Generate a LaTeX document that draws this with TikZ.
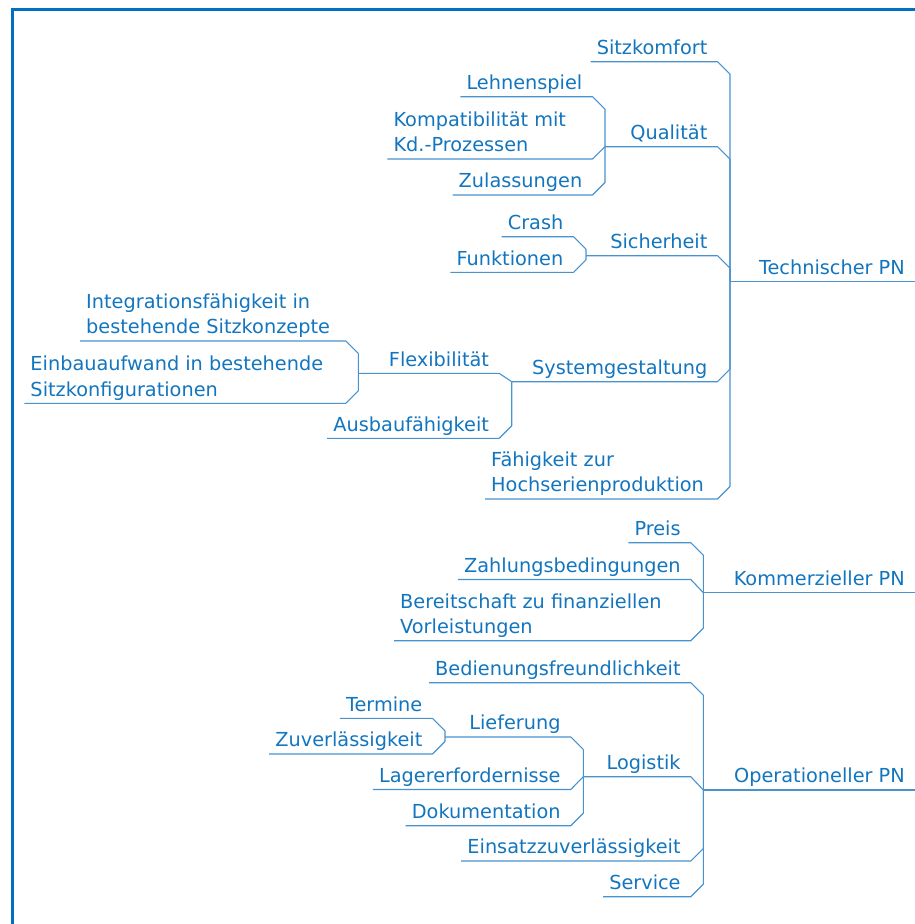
\documentclass[tikz,border=0pt]{standalone}
\usepackage{fontspec}
\setmainfont{DejaVu Sans}
\usetikzlibrary{calc}

\definecolor{pnframe}{RGB}{0,112,192}
\definecolor{pntext}{RGB}{18,117,190}
\definecolor{pnline}{RGB}{72,146,206}

\begin{document}
\begin{tikzpicture}[x=1pt, y=-1pt,
  pn/.style={font=\fontsize{19.3}{25.5}\selectfont, text=pntext, inner xsep=6pt, inner ysep=0pt,
    align=left, execute at end node={\rule[-7pt]{0pt}{7pt}}},
  pnr/.style={pn, anchor=south east},
  pnl/.style={pn, anchor=south west},
  branch/.style={draw=pnline, line width=1.1pt, line join=round}]

\useasboundingbox (0,0) rectangle (915,924);

% frame
\draw[pnframe, line width=2.7pt] (12.3,924) -- (12.3,9.3) -- (915,9.3);

% junctions of the brackets
\coordinate (techbar) at (730,281.7);
\coordinate (kommbar) at (703.3,592.7);
\coordinate (operbar) at (703.3,790);
\coordinate (qualbar) at (605,146.7);
\coordinate (sicherbar) at (586,255.7);
\coordinate (sysbar) at (511.7,381.7);
\coordinate (flexbar) at (358.3,373.3);
\coordinate (logbar) at (583.3,776.7);
\coordinate (liefbar) at (445,737);

% roots
\node[pnr] (tech) at (911,281.7) {Technischer PN};
\node[pnr] (komm) at (911,592.7) {Kommerzieller PN};
\node[pnr] (oper) at (911,790) {Operationeller PN};

% Technischer PN
\node[pnr] (sitz) at (713.5,61.7) {Sitzkomfort};
\node[pnr] (qual) at (713.5,146.7) {Qualität};
\node[pnr] (sicher) at (713.5,255.7) {Sicherheit};
\node[pnr] (system) at (713.5,381.7) {Systemgestaltung};
\node[pnl] (hoch) at (485,499) {Fähigkeit zur\\Hochserienproduktion};

\node[pnr] (lehnen) at (588.5,96.7) {Lehnenspiel};
\node[pnl] (kompat) at (387.3,159) {Kompatibilität mit\\Kd.-Prozessen};
\node[pnr] (zul) at (588.5,195) {Zulassungen};

\node[pnr] (crash) at (569.5,236.7) {Crash};
\node[pnr] (funkt) at (569.5,272.3) {Funktionen};

\node[pnr] (flex) at (495.2,373.3) {Flexibilität};
\node[pnr] (ausbau) at (495.2,438.3) {Ausbaufähigkeit};
\node[pnl] (integ) at (80,341) {Integrationsfähigkeit in\\bestehende Sitzkonzepte};
\node[pnl] (einbau) at (24.3,403.3) {Einbauaufwand in bestehende\\Sitzkonfigurationen};

% Kommerzieller PN
\node[pnr] (preis) at (686.8,542.7) {Preis};
\node[pnr] (zahl) at (686.8,579.5) {Zahlungsbedingungen};
\node[pnl] (bereit) at (394,640.7) {Bereitschaft zu finanziellen\\Vorleistungen};

% Operationeller PN
\node[pnr] (bedien) at (686.8,682.7) {Bedienungsfreundlichkeit};
\node[pnr] (logistik) at (686.8,776.7) {Logistik};
\node[pnr] (einsatz) at (686.8,861) {Einsatzzuverlässigkeit};
\node[pnr] (service) at (686.8,896.7) {Service};

\node[pnr] (liefer) at (566.8,737) {Lieferung};
\node[pnr] (lager) at (566.8,789.5) {Lagererfordernisse};
\node[pnr] (doku) at (566.8,825.7) {Dokumentation};
\node[pnr] (termine) at (428.5,718.3) {Termine};
\node[pnr] (zuver) at (428.5,754) {Zuverlässigkeit};

% root lines
\draw[branch] (techbar) -- ([xshift=4pt]tech.south east);
\draw[branch] (kommbar) -- ([xshift=4pt]komm.south east);
\draw[branch] (operbar) -- ([xshift=4pt]oper.south east);

% branches of Technischer PN
\draw[branch] (sitz.south west) -- ($(sitz.south west -| techbar)+(-12.5,0)$) -- ++(12.5,12.5) |- (techbar);
\draw[branch] (qualbar) -- ($(qual.south west -| techbar)+(-12.5,0)$) -- ++(12.5,12.5) |- (techbar);
\draw[branch] (sicherbar) -- ($(sicher.south west -| techbar)+(-12.5,0)$) -- ++(12.5,12.5) |- (techbar);
\draw[branch] (sysbar) -- ($(system.south west -| techbar)+(-12.5,0)$) -- ++(12.5,-12.5) |- (techbar);
\draw[branch] (hoch.south west) -- ($(hoch.south west -| techbar)+(-12.5,0)$) -- ++(12.5,-12.5) |- (techbar);

\draw[branch] (lehnen.south west) -- ($(lehnen.south west -| qualbar)+(-12.5,0)$) -- ++(12.5,12.5) |- (qualbar);
\draw[branch] (kompat.south west) -- ($(kompat.south west -| qualbar)+(-12.5,0)$) -- (qualbar);
\draw[branch] (zul.south west) -- ($(zul.south west -| qualbar)+(-12.5,0)$) -- ++(12.5,-12.5) |- (qualbar);

\draw[branch] (crash.south west) -- ($(crash.south west -| sicherbar)+(-12.5,0)$) -- ++(12.5,12.5) |- (sicherbar);
\draw[branch] (funkt.south west) -- ($(funkt.south west -| sicherbar)+(-12.5,0)$) -- ++(12.5,-12.5) |- (sicherbar);

\draw[branch] (flexbar) -- ($(flex.south west -| sysbar)+(-12.5,0)$) -- (sysbar);
\draw[branch] (ausbau.south west) -- ($(ausbau.south west -| sysbar)+(-12.5,0)$) -- ++(12.5,-12.5) |- (sysbar);

\draw[branch] (integ.south west) -- ($(integ.south west -| flexbar)+(-12.5,0)$) -- ++(12.5,12.5) |- (flexbar);
\draw[branch] (einbau.south west) -- ($(einbau.south west -| flexbar)+(-12.5,0)$) -- ++(12.5,-12.5) |- (flexbar);

% branches of Kommerzieller PN
\draw[branch] (preis.south west) -- ($(preis.south west -| kommbar)+(-12.5,0)$) -- ++(12.5,12.5) |- (kommbar);
\draw[branch] (zahl.south west) -- ($(zahl.south west -| kommbar)+(-12.5,0)$) -- (kommbar);
\draw[branch] (bereit.south west) -- ($(bereit.south west -| kommbar)+(-12.5,0)$) -- ++(12.5,-12.5) |- (kommbar);

% branches of Operationeller PN
\draw[branch] (bedien.south west) -- ($(bedien.south west -| operbar)+(-12.5,0)$) -- ++(12.5,12.5) |- (operbar);
\draw[branch] (logbar) -- ($(logistik.south west -| operbar)+(-12.5,0)$) -- (operbar);
\draw[branch] (einsatz.south west) -- ($(einsatz.south west -| operbar)+(-12.5,0)$) -- ++(12.5,-12.5) |- (operbar);
\draw[branch] (service.south west) -- ($(service.south west -| operbar)+(-12.5,0)$) -- ++(12.5,-12.5) |- (operbar);

\draw[branch] (liefbar) -- ($(liefer.south west -| logbar)+(-12.5,0)$) -- ++(12.5,12.5) |- (logbar);
\draw[branch] (lager.south west) -- ($(lager.south west -| logbar)+(-12.5,0)$) -- (logbar);
\draw[branch] (doku.south west) -- ($(doku.south west -| logbar)+(-12.5,0)$) -- ++(12.5,-12.5) |- (logbar);

\draw[branch] (termine.south west) -- ($(termine.south west -| liefbar)+(-12.5,0)$) -- ++(12.5,12.5) |- (liefbar);
\draw[branch] (zuver.south west) -- ($(zuver.south west -| liefbar)+(-12.5,0)$) -- ++(12.5,-12.5) |- (liefbar);
\end{tikzpicture}
\end{document}
